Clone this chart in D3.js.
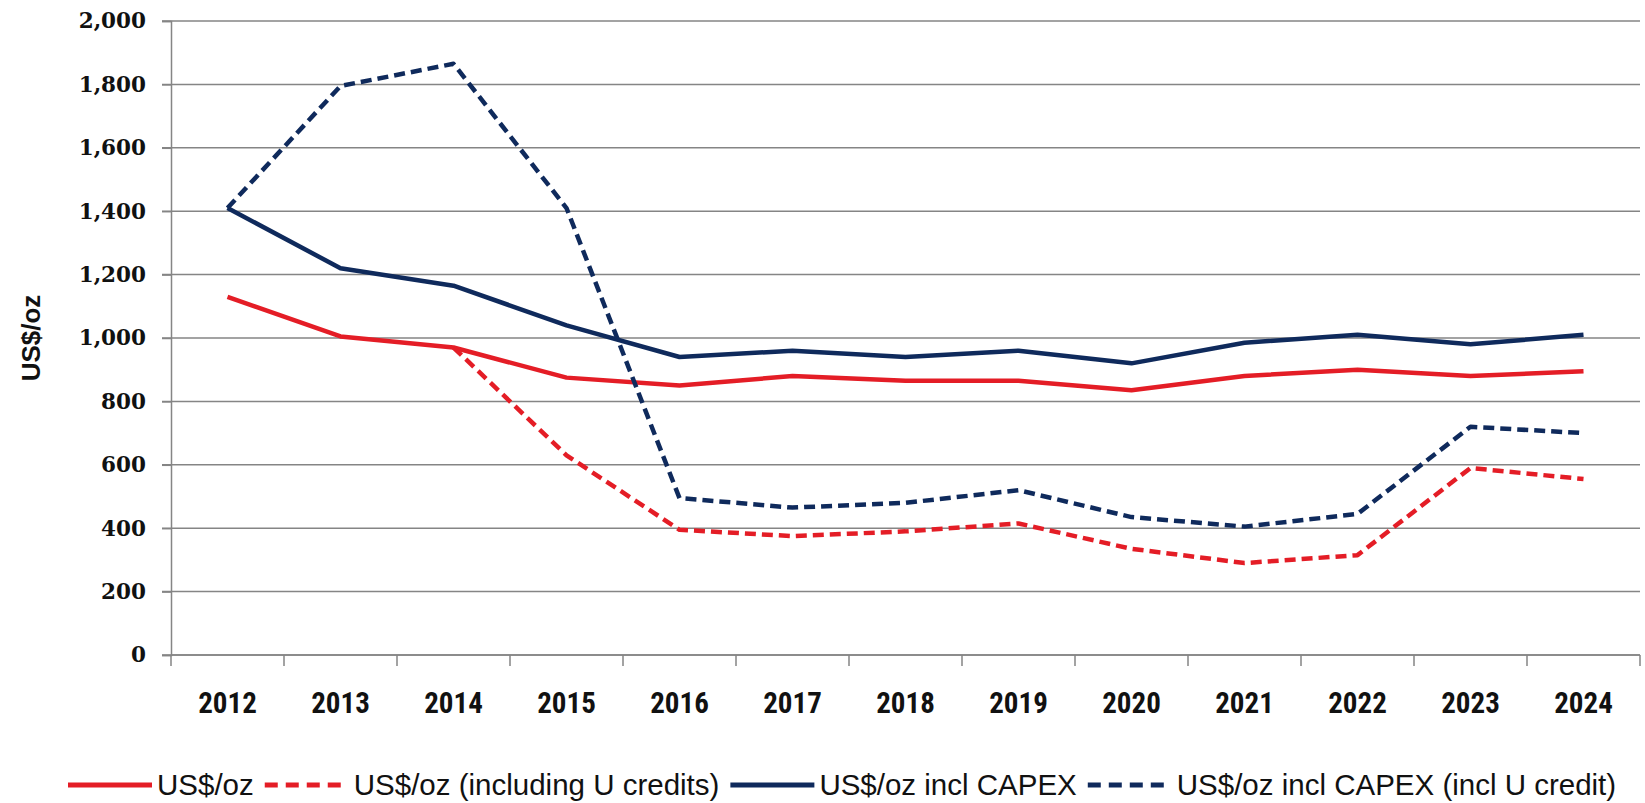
<!DOCTYPE html>
<html><head><meta charset="utf-8">
<script src="https://cdn.jsdelivr.net/npm/d3@7/dist/d3.min.js"></script>
<style>
html,body{margin:0;padding:0;background:#fff;}
svg{display:block;}
</style></head>
<body>
<svg id="chart" width="1645" height="803"></svg>
<script>
const years = ["2012","2013","2014","2015","2016","2017","2018","2019","2020","2021","2022","2023","2024"];
const usdOz = [1130,1005,970,875,850,880,865,865,835,880,900,880,895];
const usdOzUCredits = [null,null,970,630,395,375,390,415,335,290,315,590,555];
const usdOzCapex = [1410,1220,1165,1040,940,960,940,960,920,985,1010,980,1010];
const usdOzCapexUCredit = [1410,1795,1865,1410,495,465,480,520,435,405,445,720,700];
const yTicks = [0,200,400,600,800,1000,1200,1400,1600,1800,2000];
const seriesNames = ["US$/oz","US$/oz (including U credits)","US$/oz incl CAPEX","US$/oz incl CAPEX (incl U credit)"];

const RED = "#e41d26", NAVY = "#0f2a5c", GRID = "#858585";
const series = [
  {name: seriesNames[0], values: usdOz, color: RED, dash: null},
  {name: seriesNames[1], values: usdOzUCredits, color: RED, dash: "11,6"},
  {name: seriesNames[2], values: usdOzCapex, color: NAVY, dash: null},
  {name: seriesNames[3], values: usdOzCapexUCredit, color: NAVY, dash: "11,6"}
];

const svg = d3.select("#chart");
const L = 171, R = 1640, T = 21, B = 655;
const x = d3.scaleBand().domain(years).range([L, R]).paddingInner(0).paddingOuter(0);
const y = d3.scaleLinear().domain([0, 2000]).range([B, T]);

// gridlines
svg.append("g").selectAll("line").data(yTicks).join("line")
  .attr("x1", L - 9).attr("x2", R).attr("y1", d => y(d)).attr("y2", d => y(d))
  .attr("stroke", GRID).attr("stroke-width", 1.5);

// y axis
const yAxis = svg.append("g").attr("transform", `translate(${L},0)`)
  .call(d3.axisLeft(y).tickValues(yTicks).tickSize(9).tickPadding(16).tickFormat(d3.format(",")));
yAxis.select(".domain").attr("stroke", GRID).attr("stroke-width", 1.5);
yAxis.selectAll(".tick line").attr("stroke", GRID).attr("stroke-width", 1.5);
yAxis.selectAll("text").attr("font-family", "'DejaVu Serif', serif").attr("font-weight", "bold")
  .attr("font-size", 21.5).attr("fill", "#111");

// x axis: ticks at category boundaries
const xg = svg.append("g").attr("transform", `translate(0,${B})`);
xg.append("line").attr("x1", L).attr("x2", R).attr("stroke", GRID).attr("stroke-width", 1.5);
const boundaries = years.map(d => x(d)).concat([R]);
xg.selectAll("line.tk").data(boundaries).join("line").attr("class","tk")
  .attr("x1", d => d).attr("x2", d => d).attr("y1", 0).attr("y2", 11)
  .attr("stroke", GRID).attr("stroke-width", 1.5);
xg.selectAll("text").data(years).join("text")
  .attr("x", d => x(d) + x.bandwidth()/2).attr("y", 58)
  .attr("text-anchor", "middle")
  .attr("font-family", "'Liberation Sans Narrow','Roboto Condensed','Liberation Sans',sans-serif")
  .attr("font-weight", "bold").attr("font-size", 29).attr("fill", "#111")
  .text(d => d);

// y title
svg.append("text").attr("transform", `translate(40,${(T+B)/2}) rotate(-90)`)
  .attr("text-anchor", "middle")
  .attr("font-family", "'Liberation Sans Narrow','Liberation Sans',sans-serif")
  .attr("font-weight", "bold").attr("font-size", 26).attr("fill", "#111")
  .text("US$/oz");

// lines
const line = d3.line().defined(d => d.v != null)
  .x(d => x(d.year) + x.bandwidth()/2).y(d => y(d.v));
series.forEach(s => {
  svg.append("path")
    .datum(years.map((yr, i) => ({year: yr, v: s.values[i]})))
    .attr("d", line).attr("fill", "none")
    .attr("stroke", s.color).attr("stroke-width", 4.5)
    .attr("stroke-linejoin", "round")
    .attr("stroke-dasharray", s.dash);
});

// legend
const lg = svg.append("g").attr("transform", "translate(68,785)");
let cx = 0;
series.forEach(s => {
  lg.append("line").attr("x1", cx).attr("x2", cx + 84).attr("y1", 0).attr("y2", 0)
    .attr("stroke", s.color).attr("stroke-width", 5)
    .attr("stroke-dasharray", s.dash ? "13,8" : null);
  const t = lg.append("text").attr("x", cx + 89).attr("y", 0).attr("dy", "0.35em")
    .attr("font-family", "'Liberation Sans Narrow','Liberation Sans',sans-serif")
    .attr("font-size", 29.5).attr("fill", "#111").text(s.name);
  cx += 89 + t.node().getComputedTextLength() + 11;
});
</script>
</body></html>
